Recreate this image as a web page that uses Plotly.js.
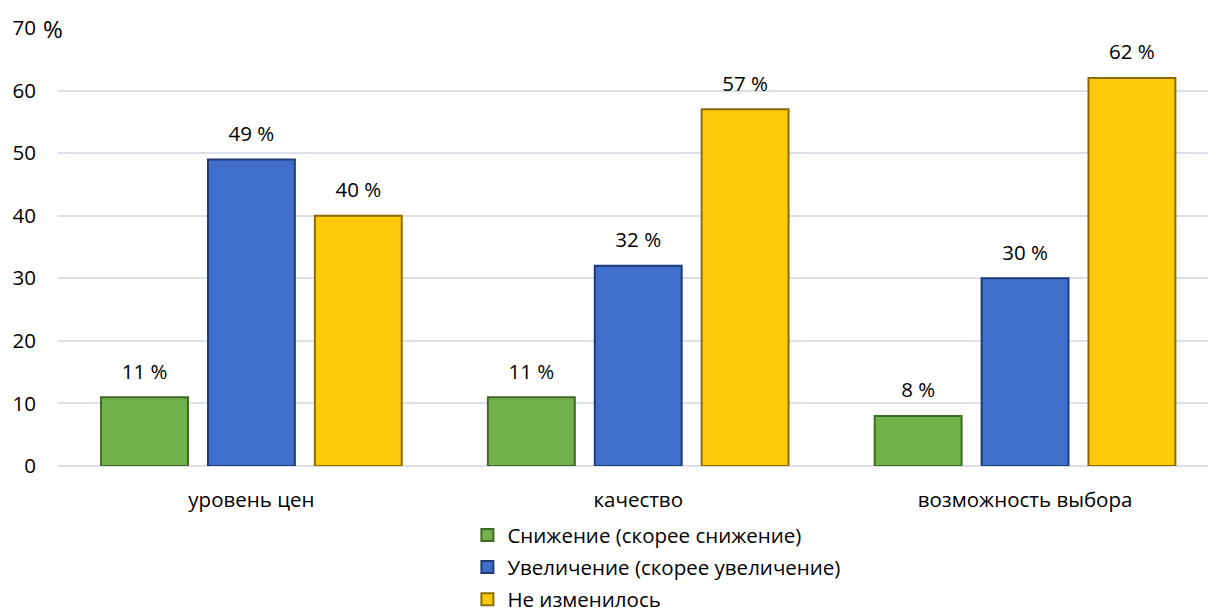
<!DOCTYPE html>
<html>
<head>
<meta charset="utf-8">
<script src="https://cdn.plot.ly/plotly-3.0.1.min.js"></script>
<style>html,body{margin:0;padding:0;background:#fff;}#chart{width:1208px;height:612px;}</style>
</head>
<body>
<div id="chart"></div>
<script>
const categories = ["уровень цен", "качество", "возможность выбора"];
const seriesNames = ["Снижение (скорее снижение)", "Увеличение (скорее увеличение)", "Не изменилось"];
const decrease = [11, 11, 8];
const increase = [49, 32, 30];
const unchanged = [40, 57, 62];
const yTicks = [0, 10, 20, 30, 40, 50, 60, 70];

const FONT = "'Open Sans', 'Noto Sans', Arial, sans-serif";
const fills = ["#72B24A", "#3F6FCB", "#FFC90C"];
const edges = ["#3F6A26", "#1F3C78", "#8A6C00"];
const values = [decrease, increase, unchanged];

const traces = [];
values.forEach((vals, i) => {
  traces.push({
    type: "bar", x: categories, y: vals, name: seriesNames[i],
    legendgroup: "g" + i,
    marker: {color: fills[i], line: {color: edges[i], width: 2}},
    hoverinfo: "skip", offsetgroup: "o" + i
  });
});
values.forEach((vals, i) => {
  traces.push({
    type: "scatter", mode: "markers+text", x: categories, y: vals,
    text: vals.map(v => v + " %"), textposition: "top center",
    textfont: {family: FONT, size: 20.5, color: "#000"},
    marker: {size: 20, opacity: 0}, showlegend: false, hoverinfo: "skip",
    offsetgroup: "o" + i, cliponaxis: false
  });
});

const layout = {
  width: 1208, height: 612,
  margin: {l: 58, r: 0, t: 28, b: 146, autoexpand: false},
  paper_bgcolor: "#fff", plot_bgcolor: "#fff",
  font: {family: FONT, size: 20.5, color: "#000"},
  barmode: "group", bargap: 0.171, bargroupgap: 0.187,
  scattermode: "group", scattergap: 0.171,
  showlegend: true,
  legend: {x: 0.356, xanchor: "left", y: -0.112, yanchor: "top", orientation: "v",
           font: {family: FONT, size: 20.5, color: "#000"}, tracegroupgap: 2.5,
           bgcolor: "rgba(0,0,0,0)", itemclick: false},
  xaxis: {type: "category", range: [-0.5, 2.473], showgrid: false, zeroline: false,
          showline: false, ticks: "", ticklabelstandoff: 19,
          tickfont: {family: FONT, size: 20.5, color: "#000"}, fixedrange: true},
  yaxis: {range: [0, 70], tickvals: yTicks, ticktext: yTicks.map(String),
          showgrid: true, gridcolor: "#DCE0E8", gridwidth: 2, zeroline: true,
          zerolinecolor: "#DCE0E8", zerolinewidth: 2, showline: false, ticks: "",
          ticklabelstandoff: 21, tickfont: {family: FONT, size: 20.5, color: "#000"},
          fixedrange: true},
  annotations: [{xref: "paper", yref: "paper", x: -0.0148, y: 1, xanchor: "left", yanchor: "middle",
                 text: "%", showarrow: false, font: {family: FONT, size: 24, color: "#000"}}]
};

Plotly.newPlot("chart", traces, layout, {displayModeBar: false, staticPlot: true});
</script>
</body>
</html>
